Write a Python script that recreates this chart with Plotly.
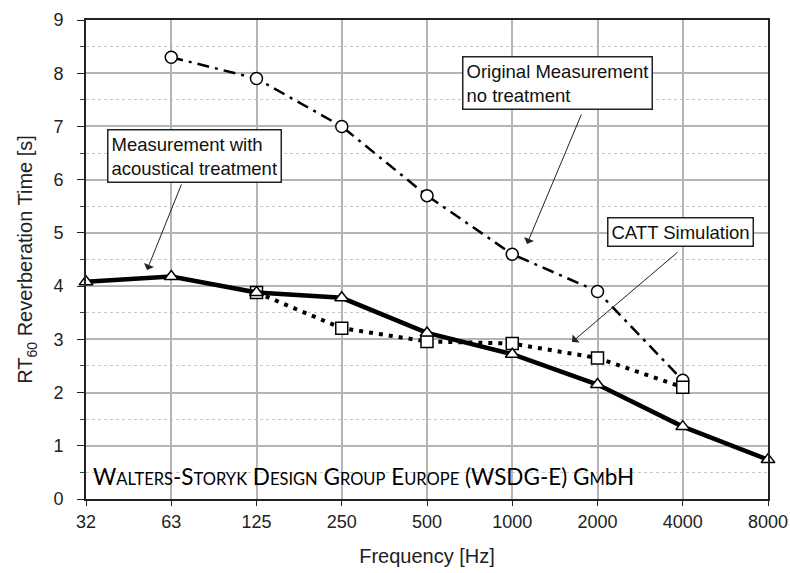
import plotly.graph_objects as go

freq_labels = ["32", "63", "125", "250", "500", "1000", "2000", "4000", "8000"]

orig_freqs = ["63", "125", "250", "500", "1000", "2000", "4000"]
orig_vals = [8.3, 7.9, 7.0, 5.7, 4.6, 3.9, 2.23]

treat_freqs = freq_labels
treat_vals = [4.08, 4.18, 3.88, 3.78, 3.12, 2.72, 2.15, 1.36, 0.74]

catt_freqs = ["125", "250", "500", "1000", "2000", "4000"]
catt_vals = [3.88, 3.21, 2.96, 2.92, 2.65, 2.1]

idx = {f: i for i, f in enumerate(freq_labels)}

fig = go.Figure()

fig.add_trace(go.Scatter(
    x=[idx[f] for f in orig_freqs], y=orig_vals, mode="lines+markers",
    line=dict(color="black", width=2.5, dash="12px,6px,3px,6px"),
    marker=dict(symbol="circle", size=12, color="white", line=dict(color="black", width=1.5)),
    cliponaxis=False, showlegend=False))

fig.add_trace(go.Scatter(
    x=[idx[f] for f in catt_freqs], y=catt_vals, mode="lines+markers",
    line=dict(color="black", width=4, dash="4px,6px"),
    marker=dict(symbol="square", size=12, color="white", line=dict(color="black", width=1.5)),
    cliponaxis=False, showlegend=False))

fig.add_trace(go.Scatter(
    x=[idx[f] for f in treat_freqs], y=treat_vals, mode="lines+markers",
    line=dict(color="black", width=4.5),
    marker=dict(symbol="triangle-up", size=12, color="white", line=dict(color="black", width=1.5)),
    cliponaxis=False, showlegend=False))

L, R, T, B = 86, 768, 20, 499
def px_x(p):
    return (p - L) / (R - L) * 8
def px_y(p):
    return (B - p) / (B - T) * 9

ann_font = dict(family="Liberation Sans, Arial", size=18.5, color="#111")
boxes = [
    ("Measurement with<br>acoustical treatment", 194.5, 156),
    ("Original Measurement<br>no treatment", 557.5, 83),
    ("CATT Simulation", 680, 231.5),
]
arrows = [
    ((182, 183), (147, 270)),
    ((582, 113), (527, 244)),
    ((679, 251), (572, 342)),
]
for text, cx, cy in boxes:
    fig.add_annotation(x=px_x(cx), y=px_y(cy), xref="x", yref="y", text=text,
                       showarrow=False, align="left", font=ann_font,
                       bgcolor="white", bordercolor="#222", borderwidth=1.5, borderpad=3)
for (tx, ty), (hx, hy) in arrows:
    fig.add_annotation(x=px_x(hx), y=px_y(hy), ax=px_x(tx), ay=px_y(ty),
                       xref="x", yref="y", axref="x", ayref="y", text="",
                       showarrow=True, arrowhead=1, arrowsize=1.8, arrowwidth=1, arrowcolor="#222")

sc = "<span style='font-size:16.5px'>%s</span>"
wm = ("W" + sc % "ALTERS" + "-S" + sc % "TORYK" + " D" + sc % "ESIGN" + " G" + sc % "ROUP"
      + " E" + sc % "UROPE" + " (WSDG-E) G" + sc % "M" + "bH")
fig.add_annotation(x=0.007, y=0.43, xref="paper", yref="y", xanchor="left", yanchor="middle",
                   text=wm, showarrow=False, font=dict(family="Lato", size=22.5, color="black"))

tick_font = dict(family="Liberation Sans, Arial", size=18, color="#222")
title_font = dict(family="Liberation Sans, Arial", size=20, color="#222")

fig.update_xaxes(
    type="linear", range=[0, 8], tickmode="array", tickvals=list(range(len(freq_labels))),
    ticktext=freq_labels, showgrid=True, gridcolor="#b5b5b5", gridwidth=1.5,
    showline=True, linecolor="#222", linewidth=2, mirror=True,
    ticks="outside", ticklen=5, tickcolor="#222", ticklabelstandoff=0,
    tickfont=tick_font, automargin=False,
    title=dict(text="Frequency [Hz]", font=title_font, standoff=18),
    zeroline=False)

fig.update_yaxes(
    range=[0, 9], dtick=1, showgrid=True, gridcolor="#b5b5b5", gridwidth=1.5,
    showline=True, linecolor="#222", linewidth=2, mirror=True,
    ticks="outside", ticklen=7, tickcolor="#222", ticklabelstandoff=10,
    minor=dict(dtick=0.5, showgrid=True, gridcolor="#c8c8c8", griddash="dot", gridwidth=1,
               ticks="outside", ticklen=4, tickcolor="#444"),
    tickfont=tick_font, automargin=False,
    title=dict(text="RT<sub>60</sub> Reverberation Time [s]", font=title_font, standoff=15),
    zeroline=False)

fig.update_layout(
    width=790, height=573, plot_bgcolor="white", paper_bgcolor="white",
    margin=dict(l=L, r=790 - R, t=T, b=573 - B, autoexpand=False))

fig.write_html("out.html", config={"displayModeBar": False},
               post_script="document.body.style.margin='0';document.body.style.overflow='hidden';")
